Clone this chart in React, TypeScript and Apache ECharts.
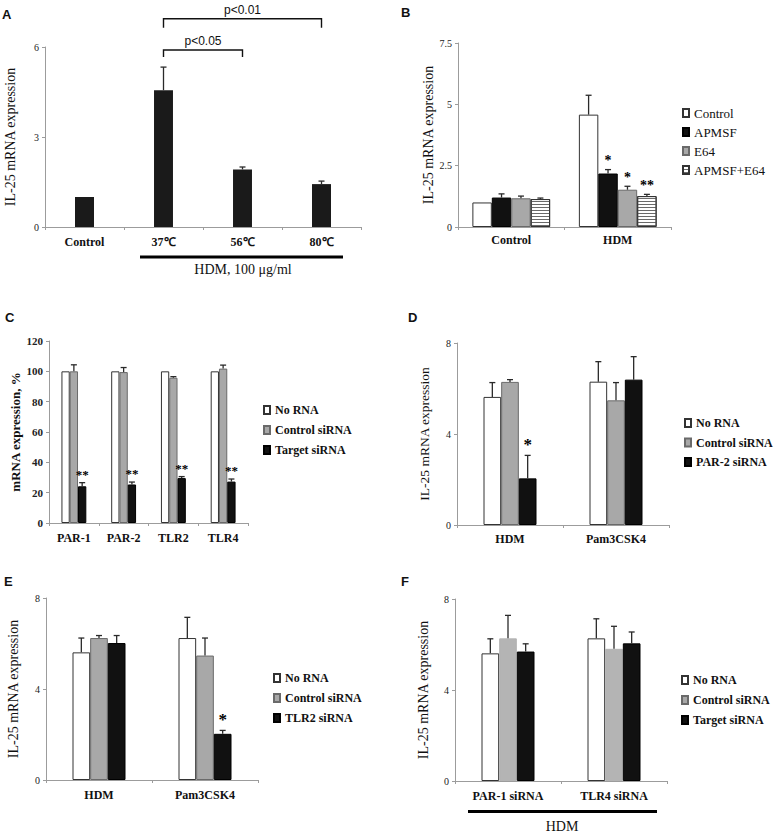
import React, { useEffect, useRef } from "react";
import * as echarts from "echarts";

const SERIF = '"Liberation Serif", "Times New Roman", Times, serif';
const SANS = '"Liberation Sans", Arial, Helvetica, sans-serif';

// ---------- Panel A ----------
const aCategories = ["Control", "37℃", "56℃", "80℃"];
const aValues = [1.0, 4.56, 1.92, 1.43];
const aErrors = [0, 0.77, 0.08, 0.1];
const aBracketFrom = [1, 1];
const aBracketTo = [2, 3];
const aBracketY = [5.9, 6.94];
const aBracketLabels = ["p<0.05", "p<0.01"];
const aYMax = 6;
const aYInterval = 3;

// ---------- Panel B ----------
const bCategories = ["Control", "HDM"];
const bSeriesNames = ["Control", "APMSF", "E64", "APMSF+E64"];
const bControl = [1.0, 4.58];
const bControlErr = [0, 0.79];
const bAPMSF = [1.2, 2.18];
const bAPMSFErr = [0.15, 0.16];
const bE64 = [1.17, 1.52];
const bE64Err = [0.09, 0.14];
const bCombo = [1.14, 1.26];
const bComboErr = [0.04, 0.07];
const bAPMSFStars = ["", "*"];
const bE64Stars = ["", "*"];
const bComboStars = ["", "**"];
const bYMax = 7.5;
const bYInterval = 2.5;

// ---------- Panel C ----------
const cCategories = ["PAR-1", "PAR-2", "TLR2", "TLR4"];
const cSeriesNames = ["No RNA", "Control siRNA", "Target siRNA"];
const cNoRNA = [100, 100, 100, 100];
const cNoRNAErr = [0, 0, 0, 0];
const cControl = [100, 99.5, 95.8, 101.8];
const cControlErr = [4.3, 3.0, 0.7, 2.3];
const cTarget = [24.2, 25.4, 29.6, 27.3];
const cTargetErr = [2.4, 1.6, 1.0, 1.7];
const cTargetStars = ["**", "**", "**", "**"];
const cYMax = 120;
const cYInterval = 20;

// ---------- Panel D ----------
const dCategories = ["HDM", "Pam3CSK4"];
const dSeriesNames = ["No RNA", "Control siRNA", "PAR-2 siRNA"];
const dNoRNA = [5.63, 6.3];
const dNoRNAErr = [0.63, 0.88];
const dControl = [6.29, 5.48];
const dControlErr = [0.1, 0.78];
const dPAR2 = [2.05, 6.39];
const dPAR2Err = [1.01, 1.01];
const dPAR2Stars = ["*", ""];

// ---------- Panel E ----------
const eCategories = ["HDM", "Pam3CSK4"];
const eSeriesNames = ["No RNA", "Control siRNA", "TLR2 siRNA"];
const eNoRNA = [5.61, 6.24];
const eNoRNAErr = [0.63, 0.91];
const eControl = [6.24, 5.47];
const eControlErr = [0.11, 0.77];
const eTLR2 = [6.02, 2.03];
const eTLR2Err = [0.33, 0.15];
const eTLR2Stars = ["", "*"];

// ---------- Panel F ----------
const fCategories = ["PAR-1 siRNA", "TLR4 siRNA"];
const fSeriesNames = ["No RNA", "Control siRNA", "Target siRNA"];
const fNoRNA = [5.61, 6.27];
const fNoRNAErr = [0.64, 0.86];
const fControl = [6.27, 5.81];
const fControlErr = [1.01, 0.99];
const fTarget = [5.69, 6.05];
const fTargetErr = [0.34, 0.5];

const siYMax = 8;
const siYInterval = 4;

// ---------- styles ----------
const WHITE = { color: "#ffffff", borderColor: "#333333", borderWidth: 1 };
const GRAY = { color: "#a8a8a8", borderColor: "#6a6a6a", borderWidth: 1 };
const GRAY_LIGHT = { color: "#b4b4b4", borderColor: "#b4b4b4", borderWidth: 1 };
const BLACK = { color: "#111111", borderColor: "#000000", borderWidth: 1 };
const STRIPE = {
  color: "#ffffff",
  borderColor: "#333333",
  borderWidth: 1,
  decal: {
    symbol: "rect",
    symbolSize: 1,
    dashArrayX: [1, 0],
    dashArrayY: [1, 2],
    rotation: 0,
    color: "#6a6a6a",
  },
};
const AXIS_COLOR = "#9c9c9c";

type BarDef = {
  name: string;
  values: number[];
  errors: number[];
  stars?: string[];
  style: any;
};

type PanelDef = {
  grid: { left: number; top: number; width: number; height: number };
  cats: string[];
  bars: BarDef[];
  fill: number;
  max: number;
  interval: number;
  yName: string;
  yNameGap: number;
  yNameSize: number;
  yNameBold?: boolean;
  tickBold?: boolean;
  catMargin: number;
  starSize: number;
};

function buildPanel(gi: number, p: PanelDef) {
  const n = p.bars.length;
  const series: any[] = [];
  p.bars.forEach((b) => {
    series.push({
      type: "bar",
      name: b.name,
      xAxisIndex: gi,
      yAxisIndex: gi,
      data: b.values,
      barGap: "0%",
      barCategoryGap: `${Math.round((1 - p.fill) * 100)}%`,
      itemStyle: b.style,
      silent: true,
      z: 2,
    });
  });
  p.bars.forEach((b, k) => {
    series.push({
      type: "custom",
      xAxisIndex: gi,
      yAxisIndex: gi,
      silent: true,
      z: 5,
      data: b.values.map((v, i) => [i, v, b.errors[i]]),
      renderItem: (params: any, api: any) => {
        const i = api.value(0);
        const v = api.value(1);
        const e = api.value(2);
        const band = api.size([1, 0])[0];
        const gw = band * p.fill;
        const bw = gw / n;
        const base = api.coord([i, v]);
        const cx = base[0] - gw / 2 + (k + 0.5) * bw;
        const top = api.coord([i, v + e])[1];
        const children: any[] = [];
        if (e > 0) {
          children.push({
            type: "line",
            shape: { x1: cx, y1: base[1], x2: cx, y2: top },
            style: { stroke: "#2a2a2a", lineWidth: 1.3 },
          });
          children.push({
            type: "line",
            shape: { x1: cx - 3, y1: top, x2: cx + 3, y2: top },
            style: { stroke: "#2a2a2a", lineWidth: 1.3 },
          });
        }
        const star = b.stars ? b.stars[params.dataIndex] : "";
        if (star) {
          children.push({
            type: "text",
            style: {
              text: star,
              x: cx,
              y: top - 2,
              align: "center",
              verticalAlign: "bottom",
              fontFamily: SERIF,
              fontWeight: "bold",
              fontSize: p.starSize,
              fill: "#000",
            },
          });
        }
        return { type: "group", children };
      },
    });
  });

  const grid = { ...p.grid, containLabel: false };
  const xAxis = {
    gridIndex: gi,
    type: "category",
    data: p.cats,
    axisLine: { show: true, lineStyle: { color: AXIS_COLOR, width: 1 } },
    axisTick: { show: true, length: 3, lineStyle: { color: AXIS_COLOR } },
    axisLabel: {
      interval: 0,
      fontFamily: SERIF,
      fontWeight: "bold",
      fontSize: 12,
      color: "#111",
      margin: p.catMargin,
    },
  };
  const yAxis = {
    gridIndex: gi,
    type: "value",
    min: 0,
    max: p.max,
    interval: p.interval,
    splitLine: { show: false },
    axisLine: { show: true, lineStyle: { color: AXIS_COLOR, width: 1 } },
    axisTick: { show: true, length: 3, lineStyle: { color: AXIS_COLOR } },
    axisLabel: {
      fontFamily: SERIF,
      fontSize: p.tickBold ? 11 : 10,
      fontWeight: p.tickBold ? "bold" : "normal",
      color: "#222",
      margin: 6,
    },
    name: p.yName,
    nameLocation: "middle",
    nameGap: p.yNameGap,
    nameTextStyle: {
      fontFamily: SERIF,
      fontSize: p.yNameSize,
      fontWeight: p.yNameBold ? "bold" : "normal",
      color: "#111",
    },
  };
  return { grid, xAxis, yAxis, series };
}

function legendFor(
  names: string[],
  left: number,
  top: number,
  bold: boolean,
  size: number,
  gap: number
) {
  return {
    orient: "vertical",
    left,
    top,
    padding: 0,
    itemWidth: 6,
    itemHeight: 8,
    itemGap: gap,
    icon: "rect",
    selectedMode: false,
    data: names,
    textStyle: {
      fontFamily: SERIF,
      fontSize: size,
      fontWeight: bold ? "bold" : "normal",
      color: "#111",
      lineHeight: 14,
    },
  };
}

export default function App() {
  const ref = useRef<HTMLDivElement>(null);

  useEffect(() => {
    if (!ref.current) return;
    const chart = echarts.init(ref.current, undefined, { renderer: "svg" });

    const panels: PanelDef[] = [
      {
        grid: { left: 45, top: 47, width: 316, height: 180 },
        cats: aCategories,
        bars: [{ name: "IL-25", values: aValues, errors: aErrors, style: { color: "#1a1a1a" } }],
        fill: 0.24,
        max: aYMax,
        interval: aYInterval,
        yName: "IL-25 mRNA expression",
        yNameGap: 28,
        yNameSize: 14,
        catMargin: 9,
        starSize: 14,
      },
      {
        grid: { left: 458, top: 43, width: 213, height: 184 },
        cats: bCategories,
        bars: [
          { name: bSeriesNames[0], values: bControl, errors: bControlErr, style: WHITE },
          { name: bSeriesNames[1], values: bAPMSF, errors: bAPMSFErr, stars: bAPMSFStars, style: BLACK },
          { name: bSeriesNames[2], values: bE64, errors: bE64Err, stars: bE64Stars, style: GRAY },
          { name: bSeriesNames[3], values: bCombo, errors: bComboErr, stars: bComboStars, style: STRIPE },
        ],
        fill: 0.73,
        max: bYMax,
        interval: bYInterval,
        yName: "IL-25 mRNA expression",
        yNameGap: 16,
        yNameSize: 14,
        catMargin: 7,
        starSize: 14,
      },
      {
        grid: { left: 49, top: 341, width: 199, height: 182 },
        cats: cCategories,
        bars: [
          { name: cSeriesNames[0], values: cNoRNA, errors: cNoRNAErr, style: WHITE },
          { name: cSeriesNames[1], values: cControl, errors: cControlErr, style: GRAY },
          { name: cSeriesNames[2], values: cTarget, errors: cTargetErr, stars: cTargetStars, style: BLACK },
        ],
        fill: 0.5,
        max: cYMax,
        interval: cYInterval,
        yName: "mRNA expression, %",
        yNameGap: 27,
        yNameSize: 13,
        yNameBold: true,
        tickBold: true,
        catMargin: 9,
        starSize: 13,
      },
      {
        grid: { left: 457, top: 343, width: 212, height: 182 },
        cats: dCategories,
        bars: [
          { name: dSeriesNames[0], values: dNoRNA, errors: dNoRNAErr, style: WHITE },
          { name: dSeriesNames[1], values: dControl, errors: dControlErr, style: GRAY },
          { name: dSeriesNames[2], values: dPAR2, errors: dPAR2Err, stars: dPAR2Stars, style: BLACK },
        ],
        fill: 0.5,
        max: siYMax,
        interval: siYInterval,
        yName: "IL-25 mRNA expression",
        yNameGap: 26,
        yNameSize: 13.5,
        catMargin: 8,
        starSize: 17,
      },
      {
        grid: { left: 46, top: 598, width: 212, height: 182 },
        cats: eCategories,
        bars: [
          { name: eSeriesNames[0], values: eNoRNA, errors: eNoRNAErr, style: WHITE },
          { name: eSeriesNames[1], values: eControl, errors: eControlErr, style: GRAY },
          { name: eSeriesNames[2], values: eTLR2, errors: eTLR2Err, stars: eTLR2Stars, style: BLACK },
        ],
        fill: 0.5,
        max: siYMax,
        interval: siYInterval,
        yName: "IL-25 mRNA expression",
        yNameGap: 26,
        yNameSize: 14,
        catMargin: 9,
        starSize: 17,
      },
      {
        grid: { left: 455, top: 599, width: 212, height: 182 },
        cats: fCategories,
        bars: [
          { name: fSeriesNames[0], values: fNoRNA, errors: fNoRNAErr, style: WHITE },
          { name: fSeriesNames[1], values: fControl, errors: fControlErr, style: GRAY_LIGHT },
          { name: fSeriesNames[2], values: fTarget, errors: fTargetErr, style: BLACK },
        ],
        fill: 0.5,
        max: siYMax,
        interval: siYInterval,
        yName: "IL-25 mRNA expression",
        yNameGap: 25,
        yNameSize: 14,
        catMargin: 9,
        starSize: 17,
      },
    ];

    const grids: any[] = [];
    const xAxes: any[] = [];
    const yAxes: any[] = [];
    let series: any[] = [];
    panels.forEach((p, gi) => {
      const r = buildPanel(gi, p);
      grids.push(r.grid);
      xAxes.push(r.xAxis);
      yAxes.push(r.yAxis);
      series = series.concat(r.series);
    });

    // significance brackets for panel A
    series.push({
      type: "custom",
      xAxisIndex: 0,
      yAxisIndex: 0,
      silent: true,
      z: 6,
      data: aBracketFrom.map((f, i) => [f, aBracketTo[i], aBracketY[i]]),
      renderItem: (params: any, api: any) => {
        const a = api.coord([api.value(0), api.value(2)]);
        const b = api.coord([api.value(1), api.value(2)]);
        const leg = params.dataIndex === 0 ? 7 : 9;
        const st = { stroke: "#111", lineWidth: 1.4, fill: "none" };
        return {
          type: "group",
          children: [
            {
              type: "polyline",
              shape: { points: [[a[0], a[1] + leg], [a[0], a[1]], [b[0], a[1]], [b[0], a[1] + leg]] },
              style: st,
            },
            {
              type: "text",
              style: {
                text: aBracketLabels[params.dataIndex],
                x: (a[0] + b[0]) / 2,
                y: a[1] - 3,
                align: "center",
                verticalAlign: "bottom",
                fontFamily: SANS,
                fontSize: 12,
                fill: "#111",
              },
            },
          ],
        };
      },
    });

    const letter = (t: string, left: number, top: number) => ({
      text: t,
      left,
      top,
      padding: 0,
      textStyle: { fontFamily: SANS, fontWeight: "bold", fontSize: 13, color: "#111" },
    });

    const option: any = {
      animation: false,
      backgroundColor: "#ffffff",
      title: [
        letter("A", 2, 8),
        letter("B", 401, 6),
        letter("C", 5, 311),
        letter("D", 408, 311),
        letter("E", 4, 575),
        letter("F", 401, 575),
      ],
      grid: grids,
      xAxis: xAxes,
      yAxis: yAxes,
      legend: [
        legendFor(bSeriesNames, 682, 106, false, 13, 5),
        legendFor(cSeriesNames, 263, 403, true, 12, 6),
        legendFor(dSeriesNames, 684, 416, true, 12, 5.5),
        legendFor(eSeriesNames, 273, 671, true, 12, 6),
        legendFor(fSeriesNames, 681, 673, true, 12, 6),
      ],
      graphic: [
        { type: "rect", shape: { x: 140, y: 255.5, width: 203, height: 3 }, style: { fill: "#000" } },
        {
          type: "text",
          x: 243,
          y: 269,
          style: { text: "HDM, 100 μg/ml", align: "center", verticalAlign: "middle", fontFamily: SERIF, fontSize: 14, fill: "#111" },
        },
        { type: "rect", shape: { x: 468, y: 810, width: 189, height: 3 }, style: { fill: "#000" } },
        {
          type: "text",
          x: 562,
          y: 826,
          style: { text: "HDM", align: "center", verticalAlign: "middle", fontFamily: SERIF, fontSize: 14, fill: "#111" },
        },
      ],
      series,
    };

    chart.setOption(option);
    return () => chart.dispose();
  }, []);

  return (
    <div
      ref={ref}
      style={{ position: "fixed", left: 0, top: 0, width: 776, height: 832, background: "#fff" }}
    />
  );
}
